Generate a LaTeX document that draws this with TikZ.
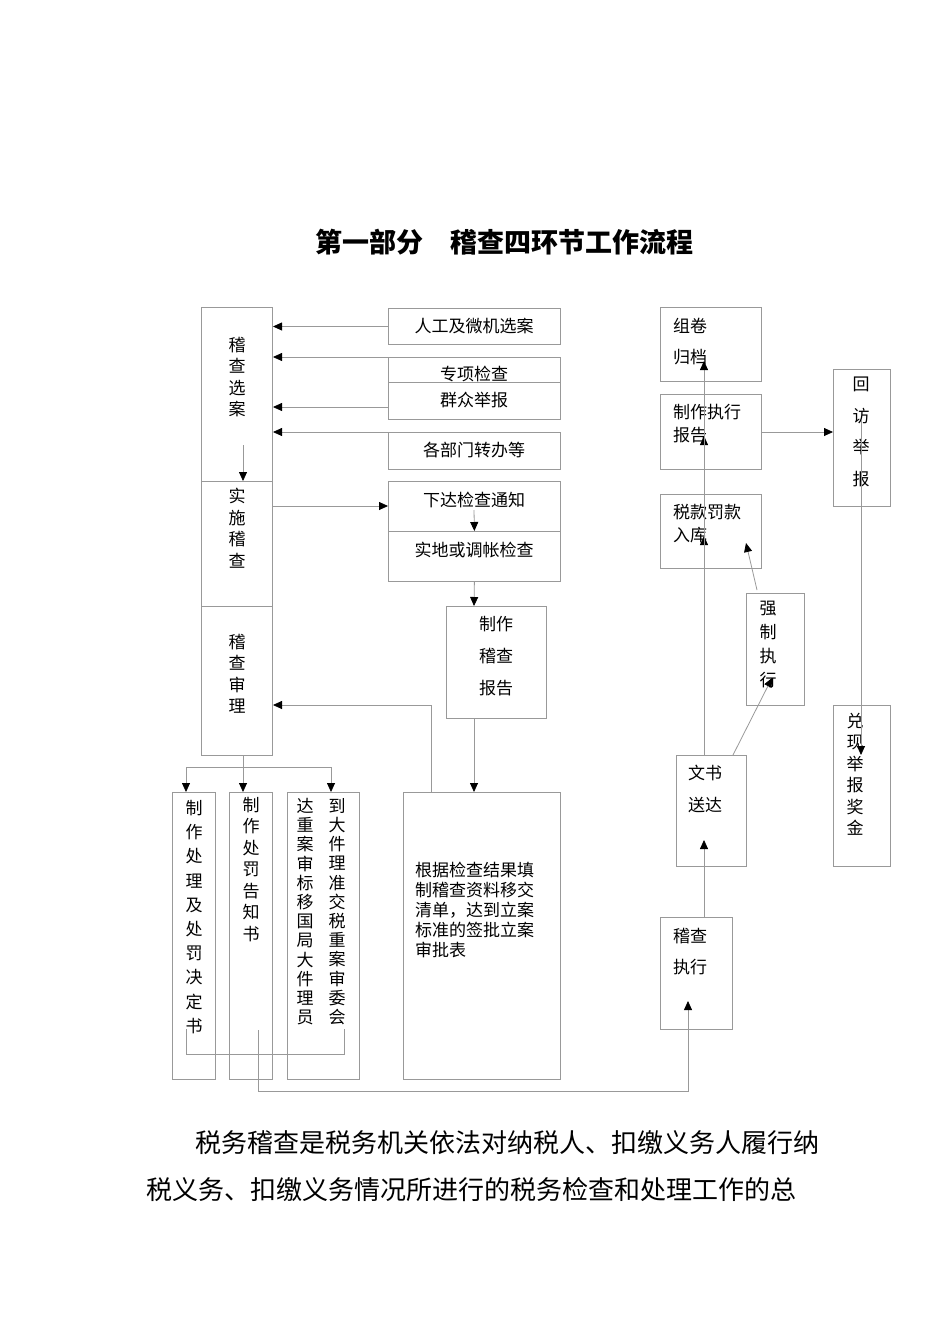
\documentclass[tikz,border=0pt]{standalone}
\usepackage{fontspec}
\setmainfont{Noto Sans CJK SC}
\usetikzlibrary{arrows.meta}
\begin{document}
\begin{tikzpicture}[x=1pt,y=-1pt,
  bx/.style={draw=black!40,line width=0.8pt,anchor=north west,inner sep=0pt},
  ln/.style={draw=black!40,line width=0.8pt},
  ar/.style={ln,-{Triangle[length=9pt,width=8pt,fill=black,color=black]}},
  tx/.style={font=\fontsize{17}{19}\selectfont,inner sep=0pt},
  vt/.style={tx,align=center,font=\fontsize{17}{21.5}\selectfont,anchor=north}]
\path[use as bounding box,fill=white] (0,0) rectangle (950,1344);
\node[font=\fontsize{27}{30}\selectfont\bfseries] (title) at (504,242) {第一部分\quad 稽查四环节工作流程};
% left column
\node[bx,minimum width=71,minimum height=174] (xa) at (201,307) {};
\node[bx,minimum width=71,minimum height=125] (ss) at (201,481) {};
\node[bx,minimum width=71,minimum height=149] (sl) at (201,606) {};
\node[vt] (t1) at (237,337) {稽\\查\\选\\案};
\node[vt] (t2) at (237,488) {实\\施\\稽\\查};
\node[vt] (t3) at (237,634) {稽\\查\\审\\理};
\coordinate (c1) at (243,445);
\draw[ar] (c1) -- (243,481);
% sources
\node[bx,minimum width=172,minimum height=36] (s1) at (388,308) {};
\node[tx] at (474,326) {人工及微机选案};
\node[bx,minimum width=172,minimum height=36] (s2) at (388,357) {};
\node[tx] at (474,374) {专项检查};
\node[bx,fill=white,minimum width=172,minimum height=37] (s3) at (388,382) {};
\node[tx] at (474,400) {群众举报};
\node[bx,minimum width=172,minimum height=37] (s4) at (388,432) {};
\node[tx] at (474,450) {各部门转办等};
\draw[ar] (s1.west) -- (273,326.5);
\draw[ar] (s2.north west) -- (273,357);
\draw[ar] (388,407) -- (273,407);
\draw[ar] (s4.north west) -- (273,432);
\node[bx,minimum width=172,minimum height=50] (n1) at (388,481) {};
\node[tx] at (474,500) {下达检查通知};
\node[bx,minimum width=172,minimum height=50] (n2) at (388,531) {};
\node[tx] at (474,550) {实地或调帐检查};
\draw[ar] (273,506) -- (388,506);
\draw[ar] (474,510) -- (n2.north);
\node[bx,minimum width=100,minimum height=112] (rp) at (446,606) {};
\node[tx] at (496,624) {制作};
\node[tx] at (496,656) {稽查};
\node[tx] at (496,688) {报告};
\draw[ar] (n2.south) -- (474,606);
\node[bx,minimum width=157,minimum height=287] (big) at (403,792) {};
\node[tx,align=left,anchor=north west,font=\fontsize{17}{20}\selectfont] at (415,862) {根据检查结果填\\制稽查资料移交\\清单，达到立案\\标准的签批立案\\审批表};
\draw[ar] (474,718) -- (474,792);
\draw[ar] (431,792) -- (431,705) -- (273,705);
% bottom left
\node[bx,minimum width=43,minimum height=287] (b1) at (172,792) {};
\node[bx,minimum width=43,minimum height=287] (b2) at (229,792) {};
\node[bx,minimum width=72,minimum height=287] (b3) at (287,792) {};
\node[vt,font=\fontsize{17}{24.2}\selectfont] at (194,800) {制\\作\\处\\理\\及\\处\\罚\\决\\定\\书};
\node[vt,font=\fontsize{17}{21.5}\selectfont] at (251,797) {制\\作\\处\\罚\\告\\知\\书};
\node[vt,font=\fontsize{17}{19.2}\selectfont] at (305,798) {达\\重\\案\\审\\标\\移\\国\\局\\大\\件\\理\\员};
\node[vt,font=\fontsize{17}{19.2}\selectfont] at (337,798) {到\\大\\件\\理\\准\\交\\税\\重\\案\\审\\委\\会};
\draw[ar] (243,755) -- (243,792);
\draw[ln] (186,767) -- (331,767);
\draw[ar] (186,767) -- (186,792);
\draw[ar] (331,767) -- (331,792);
\draw[ln] (186,1029) -- (186,1054) -- (344,1054) -- (344,1029);
% right column
\node[bx,minimum width=101,minimum height=74] (r1) at (660,307) {};
\node[tx,anchor=west] at (673,326) {组卷};
\node[tx,anchor=west] at (673,357) {归档};
\node[bx,minimum width=101,minimum height=75] (r2) at (660,394) {};
\node[tx,anchor=west] at (673,412) {制作执行};
\node[tx,anchor=west] at (673,435) {报告};
\node[bx,minimum width=101,minimum height=74] (r3) at (660,494) {};
\node[tx,anchor=west] at (673,512) {税款罚款};
\node[tx,anchor=west] at (673,535) {入库};
\node[bx,minimum width=58,minimum height=112] (qz) at (746,593) {};
\node[vt,font=\fontsize{17}{24}\selectfont] at (768,601) {强\\制\\执\\行};
\node[bx,minimum width=70,minimum height=111] (ws) at (676,755) {};
\node[tx,anchor=west] at (688,773) {文书};
\node[tx,anchor=west] at (688,805) {送达};
\node[bx,minimum width=72,minimum height=112] (jz) at (660,917) {};
\node[tx,anchor=west] at (673,936) {稽查};
\node[tx,anchor=west] at (673,967) {执行};
\node[bx,minimum width=57,minimum height=137] (hf) at (833,369) {};
\node[vt,font=\fontsize{17}{31.5}\selectfont] at (861,377) {回\\访\\举\\报};
\node[bx,minimum width=57,minimum height=161] (dx) at (833,705) {};
\node[vt,font=\fontsize{17}{21.5}\selectfont] at (855,713) {兑\\现\\举\\报\\奖\\金};
% right connectors
\draw[ar] (704,755) -- (704,536);
\draw[ar] (704,568) -- (704,436);
\draw[ar] (704,469) -- (704,361);
\draw[ar] (761,432) -- (hf.west |- 0,432);
\draw[ar] (861,420) -- (861,755);
\draw[ar] (757,590) -- (746,543);
\draw[ar] (733,755) -- (772,678);
\draw[ar] (704,917) -- (704,840);
\draw[ar] (258,1030) -- (258,1091) -- (688,1091) -- (688,1001);
% paragraph
\node[anchor=west,font=\fontsize{26}{30}\selectfont,inner sep=0pt] (p1) at (195,1143) {税务稽查是税务机关依法对纳税人、扣缴义务人履行纳};
\node[anchor=west,font=\fontsize{26}{30}\selectfont,inner sep=0pt] (p2) at (146,1190) {税义务、扣缴义务情况所进行的税务检查和处理工作的总};
\end{tikzpicture}
\end{document}
